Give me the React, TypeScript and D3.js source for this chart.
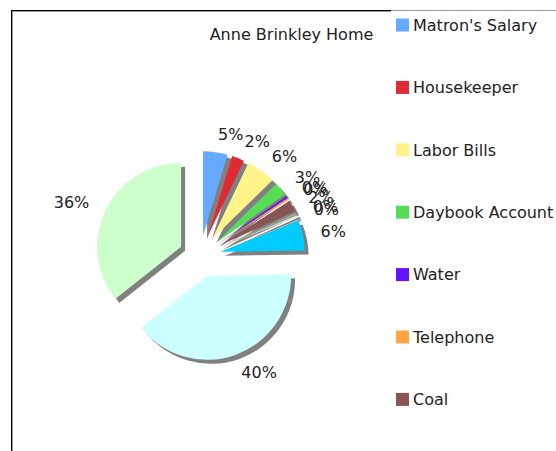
import React from "react";
import * as d3 from "d3";

const title = "Anne Brinkley Home";
const categories = [
  "Matron's Salary",
  "Housekeeper",
  "Labor Bills",
  "Daybook Account",
  "Water",
  "Telephone",
  "Coal",
  "Gas",
  "Electricity",
  "Repairs",
  "Provisions",
  "Clothing",
];
const values = [4.7, 2.4, 5.6, 2.6, 0.4, 0.3, 2.2, 0.4, 0.3, 5.8, 39.6, 35.6];
const colors = [
  "#66aaff",
  "#dd2a33",
  "#fff38a",
  "#55dd55",
  "#6611ff",
  "#ffa640",
  "#885555",
  "#99aa88",
  "#dde8dd",
  "#00ccff",
  "#ccffff",
  "#ccffcc",
];

const W = 556;
const H = 451;
const cx = 200;
const cy = 256;
const radius = 84;
const explode = 21;
const shadowOff = 4;
const labelR = 123;
const font = "'DejaVu Sans', Verdana, sans-serif";

export default function App() {
  const data = categories.map((c, i) => ({ name: c, value: values[i], color: colors[i] }));
  const total = d3.sum(values);
  const pie = d3
    .pie<any>()
    .sort(null)
    .value((d: any) => d.value)
    .startAngle(0)
    .endAngle(2 * Math.PI);
  const arcs = pie(data);
  const arcGen = d3.arc<any>().innerRadius(0).outerRadius(radius);

  const legendY = d3
    .scalePoint<string>()
    .domain(categories)
    .range([25, 25 + 62.4 * (categories.length - 1)]);

  const geom = arcs.map((a) => {
    const mid = (a.startAngle + a.endAngle) / 2;
    const ox = explode * Math.sin(mid);
    const oy = -explode * Math.cos(mid);
    const lx = cx + labelR * Math.sin(mid);
    const ly = cy - labelR * Math.cos(mid);
    const pct = Math.round((a.data.value / total) * 100);
    return { a, mid, ox, oy, lx, ly, pct, path: arcGen(a) as string };
  });

  // legend entries that fit in the visible area (the rest overflow the frame)
  const visibleLegend = data.filter((d) => (legendY(d.name) as number) + 8 < H);

  return (
    <svg
      width={W}
      height={H}
      style={{ position: "absolute", left: 0, top: 0, background: "#fff" }}
      fontFamily={font}
    >
      <rect x={0} y={0} width={W} height={H} fill="#fff" />
      {/* frame */}
      <line x1={11} y1={10.5} x2={391} y2={10.5} stroke="#000" strokeWidth={1} />
      <line x1={12} y1={11.5} x2={391} y2={11.5} stroke="#999" strokeWidth={1} />
      <line x1={391} y1={10.5} x2={W} y2={10.5} stroke="#999" strokeWidth={1} />
      <line x1={11.5} y1={10} x2={11.5} y2={H} stroke="#000" strokeWidth={1} />
      <line x1={12.5} y1={11} x2={12.5} y2={H} stroke="#999" strokeWidth={1} />

      <text x={291.5} y={40} textAnchor="middle" fontSize={16} fill="#222">
        {title}
      </text>

      {/* shadows */}
      <g>
        {geom.map((g, i) => (
          <path
            key={"s" + i}
            d={g.path}
            fill="#808080"
            transform={`translate(${cx + g.ox + shadowOff},${cy + g.oy + shadowOff})`}
          />
        ))}
      </g>
      {/* slices */}
      <g>
        {geom.map((g, i) => (
          <path
            key={"p" + i}
            d={g.path}
            fill={g.a.data.color}
            transform={`translate(${cx + g.ox},${cy + g.oy})`}
          />
        ))}
      </g>
      {/* labels */}
      <g fontSize={16} fill="#222">
        {geom.map((g, i) => (
          <text
            key={"l" + i}
            x={g.lx}
            y={g.ly}
            dy="0.36em"
            textAnchor={Math.sin(g.mid) >= 0 ? "start" : "end"}
          >
            {g.pct + "%"}
          </text>
        ))}
      </g>

      {/* legend */}
      <g fontSize={16} fill="#222">
        {visibleLegend.map((d, i) => {
          const y = legendY(d.name) as number;
          return (
            <g key={"lg" + i}>
              <rect x={396} y={y - 6.5} width={13} height={13} fill={d.color} />
              <text x={413} y={y} dy="0.36em">
                {d.name}
              </text>
            </g>
          );
        })}
      </g>
    </svg>
  );
}
